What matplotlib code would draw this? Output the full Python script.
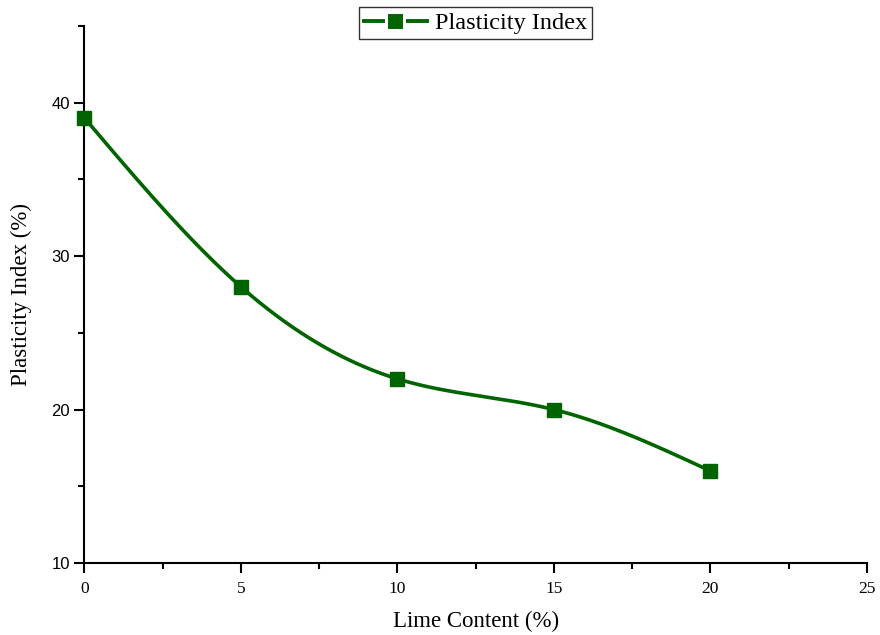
import numpy as np
import matplotlib
matplotlib.use("Agg")
import matplotlib.pyplot as plt
from matplotlib.ticker import MultipleLocator
from matplotlib.lines import Line2D

lime_content = [0, 5, 10, 15, 20]
plasticity_index = [39, 28, 22, 20, 16]

def natural_spline(x, y, xs):
    x = np.asarray(x, float); y = np.asarray(y, float)
    n = len(x)
    h = np.diff(x)
    A = np.zeros((n, n)); b = np.zeros(n)
    A[0, 0] = 1; A[-1, -1] = 1
    for i in range(1, n - 1):
        A[i, i - 1] = h[i - 1]; A[i, i] = 2 * (h[i - 1] + h[i]); A[i, i + 1] = h[i]
        b[i] = 3 * ((y[i + 1] - y[i]) / h[i] - (y[i] - y[i - 1]) / h[i - 1])
    c = np.linalg.solve(A, b)
    out = np.empty_like(xs)
    for k, xv in enumerate(xs):
        i = min(max(np.searchsorted(x, xv) - 1, 0), n - 2)
        dx = xv - x[i]
        bi = (y[i + 1] - y[i]) / h[i] - h[i] * (2 * c[i] + c[i + 1]) / 3
        di = (c[i + 1] - c[i]) / (3 * h[i])
        out[k] = y[i] + bi * dx + c[i] * dx**2 + di * dx**3
    return out

fig = plt.figure(figsize=(8.8, 6.35), dpi=100)
ax = fig.add_axes([0.096, 0.1134, 0.889, 0.8457])

color = "#006400"
xs = np.linspace(lime_content[0], lime_content[-1], 400)
ax.plot(xs, natural_spline(lime_content, plasticity_index, xs), color=color, lw=2.6, zorder=2)
ax.plot(lime_content, plasticity_index, ls="none", marker="s", ms=10, color=color,
        zorder=3, clip_on=False)
proxy = Line2D([], [], color=color, lw=2.8, marker="s", ms=12.5,
               markerfacecolor=color, markeredgecolor="white", markeredgewidth=2.2)

ax.set_xlim(0, 25)
ax.set_ylim(10, 45)
ax.xaxis.set_major_locator(MultipleLocator(5))
ax.xaxis.set_minor_locator(MultipleLocator(2.5))
ax.yaxis.set_minor_locator(MultipleLocator(5))
ax.set_yticks([10, 20, 30, 40])

for s in ["top", "right"]:
    ax.spines[s].set_visible(False)
for s in ["left", "bottom"]:
    ax.spines[s].set_linewidth(1.5)
ax.tick_params(which="major", direction="out", length=7, width=1.5)
ax.tick_params(which="minor", direction="out", length=4, width=1.5)

serif = ["Liberation Serif", "DejaVu Serif"]
sans = ["Liberation Sans", "DejaVu Sans"]
for lab in ax.get_xticklabels():
    lab.set_fontfamily(serif); lab.set_fontsize(12.5)
for lab in ax.get_yticklabels():
    lab.set_fontfamily(sans); lab.set_fontsize(12)
ax.tick_params(axis="x", pad=6)

ax.set_xlabel("Lime Content (%)", fontfamily=serif, fontsize=16.5, labelpad=10)
ax.set_ylabel("Plasticity Index (%)", fontfamily=serif, fontsize=16.5, labelpad=14)

leg = ax.legend([proxy], ["Plasticity Index"], loc="upper center", bbox_to_anchor=(0.5, 1.035),
                prop={"family": serif, "size": 17.5}, frameon=True, fancybox=False,
                edgecolor="black", handlelength=2.6, borderpad=0.2, handletextpad=0.35,
                borderaxespad=0)
leg.get_frame().set_linewidth(1.0)

fig.savefig("out.png", dpi=100)
